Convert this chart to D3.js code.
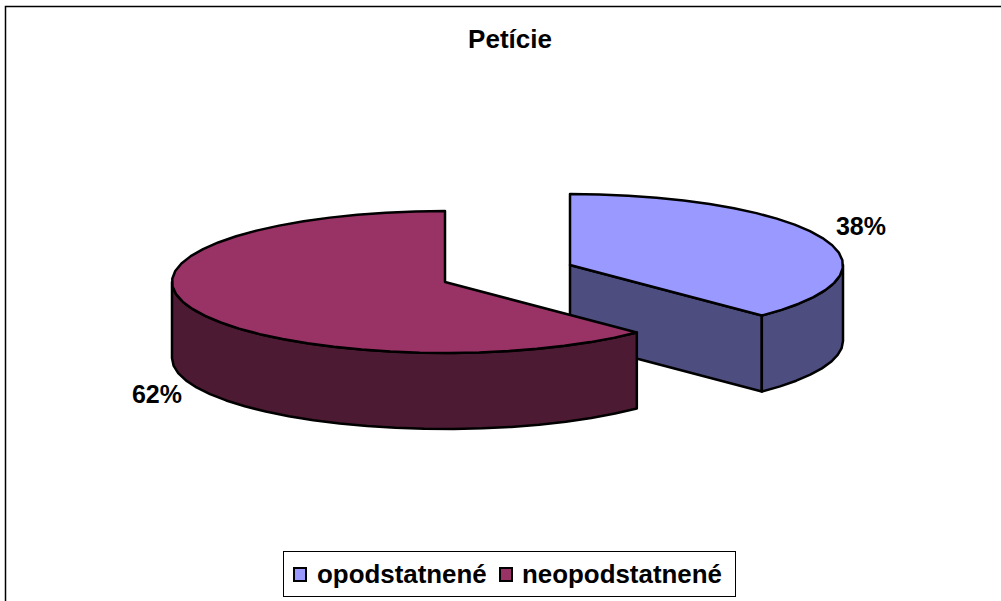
<!DOCTYPE html>
<html>
<head>
<meta charset="utf-8">
<script src="https://cdnjs.cloudflare.com/ajax/libs/d3/7.8.5/d3.min.js"></script>
<style>
    html, body { margin: 0; padding: 0; background: #fff; overflow: hidden; }
    text { font-family: "Liberation Sans", Arial, sans-serif; font-weight: bold; fill: #000; }
</style>
</head>
<body>
<div id="chart"></div>
<script>
    const categories = ["opodstatnené", "neopodstatnené"];
    const values = [37.6, 62.4];
    const topColors = ["#9999ff", "#993366"];
    const sideColors = ["#4d4d80", "#4d1a33"];

    const width = 1001, height = 601;
    const rx = 273, ry = 71, depth = 76;
    // each slice is pulled away from the middle of the pie
    const centers = [{x: 570, y: 265}, {x: 445, y: 282}];
    const labelPos = [{x: 861, y: 235}, {x: 157, y: 403}];

    const svg = d3.select("#chart")
        .append("svg")
        .attr("width", width)
        .attr("height", height);

    // frame
    svg.append("rect")
        .attr("x", 5.5)
        .attr("y", 6.5)
        .attr("width", width)
        .attr("height", height)
        .attr("fill", "#fff")
        .attr("stroke", "#000")
        .attr("stroke-width", 1.5);

    svg.append("text")
        .attr("x", 510)
        .attr("y", 48)
        .attr("text-anchor", "middle")
        .style("font-size", "26px")
        .text("Petície");

    const pie = d3.pie().sort(null)(values);
    const line = d3.line();

    // angle is clockwise from 12 o'clock
    function point(c, a, dy = 0){
        return [c.x + rx * Math.sin(a), c.y - ry * Math.cos(a) + dy];
    }

    function arcPoints(c, a0, a1, dy = 0){
        let n = Math.ceil(Math.abs(a1 - a0) / 0.11);
        return d3.range(n + 1).map(i => point(c, a0 + (a1 - a0) * i / n, dy));
    }

    function drawSlice(i){
        let c = centers[i], a0 = pie[i].startAngle, a1 = pie[i].endAngle;
        let g = svg.append("g")
            .attr("stroke", "#000")
            .attr("stroke-width", 2.5)
            .attr("stroke-linejoin", "round");

        // outer wall, only the part that faces the viewer
        let w0 = Math.max(a0, Math.PI / 2), w1 = Math.min(a1, Math.PI * 1.5);
        if (i == 0){
            // first slice also shows its cut side
            g.append("path")
                .attr("d", line([[c.x, c.y], point(c, a1), point(c, a1, depth), [c.x, c.y + depth]]) + "Z")
                .attr("fill", sideColors[i]);
        }
        g.append("path")
            .attr("d", line(arcPoints(c, w0, w1).concat(arcPoints(c, w1, w0, depth))) + "Z")
            .attr("fill", sideColors[i]);

        // top
        g.append("path")
            .attr("d", line([[c.x, c.y]].concat(arcPoints(c, a0, a1))) + "Z")
            .attr("fill", topColors[i]);
    }

    drawSlice(0);
    drawSlice(1);

    svg.selectAll(".pieLabel")
        .data(values)
        .join("text")
        .attr("class", "pieLabel")
        .attr("x", (d, i) => labelPos[i].x)
        .attr("y", (d, i) => labelPos[i].y)
        .attr("text-anchor", "middle")
        .style("font-size", "25px")
        .text(d => Math.round(d) + "%");

    // legend
    let legend = svg.append("g");
    legend.append("rect")
        .attr("x", 283.5)
        .attr("y", 551.5)
        .attr("width", 452)
        .attr("height", 45)
        .attr("fill", "#fff")
        .attr("stroke", "#000")
        .attr("stroke-width", 1);

    const legendX = d3.scaleOrdinal().domain(categories).range([294, 500]);

    legend.selectAll("rect.key")
        .data(categories)
        .join("rect")
        .attr("class", "key")
        .attr("x", d => legendX(d))
        .attr("y", 568)
        .attr("width", 12)
        .attr("height", 13)
        .attr("fill", (d, i) => topColors[i])
        .attr("stroke", "#000")
        .attr("stroke-width", 2);

    legend.selectAll("text")
        .data(categories)
        .join("text")
        .attr("x", (d, i) => legendX(d) + 23 - i)
        .attr("y", 583)
        .style("font-size", "25.9px")
        .text(d => d);
</script>
</body>
</html>
